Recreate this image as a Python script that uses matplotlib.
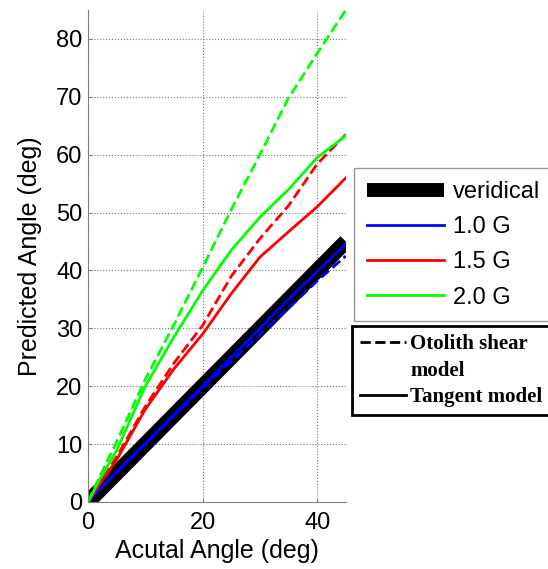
import numpy as np
import matplotlib
matplotlib.use('Agg')
from matplotlib import pyplot as plt
from matplotlib.lines import Line2D

# data
angle = [0, 2, 5, 10, 15, 20, 25, 30, 35, 40, 45]
veridical = [0, 45]
g10_tangent = [0, 2.1, 5.2, 10.1, 15.1, 20, 25, 30, 35, 39.8, 44.5]
g10_shear = [0, 2.1, 5.1, 9.9, 14.8, 19.6, 24.3, 28.9, 33.5, 38.2, 42.5]
g15_tangent = [0, 3, 7.3, 16, 23, 29, 36, 42.3, 46.7, 51, 56]
g15_shear = [0, 3.2, 7.8, 16.5, 24, 30.5, 39, 45.5, 51.2, 58.4, 63.5]
g20_tangent = [0, 3.8, 8.9, 20, 28.5, 36.5, 43.5, 49.2, 54, 59.5, 63.3]
g20_shear = [0, 4.3, 10.4, 21.2, 30.6, 40.5, 50.5, 60, 69.8, 77.5, 85]

labels = ['veridical', '1.0 G', '1.5 G', '2.0 G']
colors = ['black', '#0000ff', '#ff0000', '#00ff00']
model_labels = ['Otolith shear', 'model', 'Tangent model']

plt.rcParams['font.family'] = ['Liberation Sans', 'DejaVu Sans']

fig = plt.figure(figsize=(5.48, 5.69), dpi=100)
ax = fig.add_axes([0.1606, 0.1178, 0.4705, 0.8646])

ax.plot(veridical, veridical, color=colors[0], lw=11, solid_capstyle='butt')
ax.plot(angle, g10_tangent, color=colors[1], lw=2)
ax.plot(angle, g10_shear, color=colors[1], lw=2, ls='--')
ax.plot(angle, g15_tangent, color=colors[2], lw=2)
ax.plot(angle, g15_shear, color=colors[2], lw=2, ls='--')
ax.plot(angle, g20_tangent, color=colors[3], lw=2)
ax.plot(angle, g20_shear, color=colors[3], lw=2, ls='--')

ax.set_xlim(0, 45)
ax.set_ylim(0, 85)
ax.set_xticks([0, 20, 40])
ax.set_yticks(np.arange(0, 81, 10))
ax.grid(True, color='#777777', linestyle=':', linewidth=0.8)
ax.spines['top'].set_visible(False)
ax.spines['right'].set_visible(False)
for s in ['left', 'bottom']:
    ax.spines[s].set_color('#808080')
ax.tick_params(direction='in', length=3, labelsize=17, color='#808080')
ax.tick_params(axis='x', pad=7)
ax.tick_params(axis='y', pad=4)
ax.set_xlabel('Acutal Angle (deg)', fontsize=18, labelpad=4)
ax.set_ylabel('Predicted Angle (deg)', fontsize=18, labelpad=10)

h1 = [Line2D([], [], color=colors[0], lw=10, solid_capstyle='butt')]
h1 += [Line2D([], [], color=c, lw=2) for c in colors[1:]]
leg1 = fig.legend(h1, labels, loc='upper left', bbox_to_anchor=(0.646, 0.705),
                  fontsize=17, handlelength=3.25, handletextpad=0.38,
                  labelspacing=0.56, borderpad=0.55, borderaxespad=0,
                  fancybox=False, framealpha=1, edgecolor='#999999')

h2 = [Line2D([], [], color='black', lw=2, ls='--'),
      Line2D([], [], color='none'),
      Line2D([], [], color='black', lw=2)]
leg2 = fig.legend(h2, model_labels, loc='upper left', bbox_to_anchor=(0.642, 0.427),
                  prop={'family': 'Liberation Serif', 'weight': 'bold', 'size': 15},
                  handlelength=2.2, handletextpad=0.2, labelspacing=0.3,
                  borderpad=0.4, borderaxespad=0, fancybox=False, framealpha=1,
                  edgecolor='black')
leg2.get_frame().set_linewidth(2)

plt.savefig('out.png', dpi=100)
